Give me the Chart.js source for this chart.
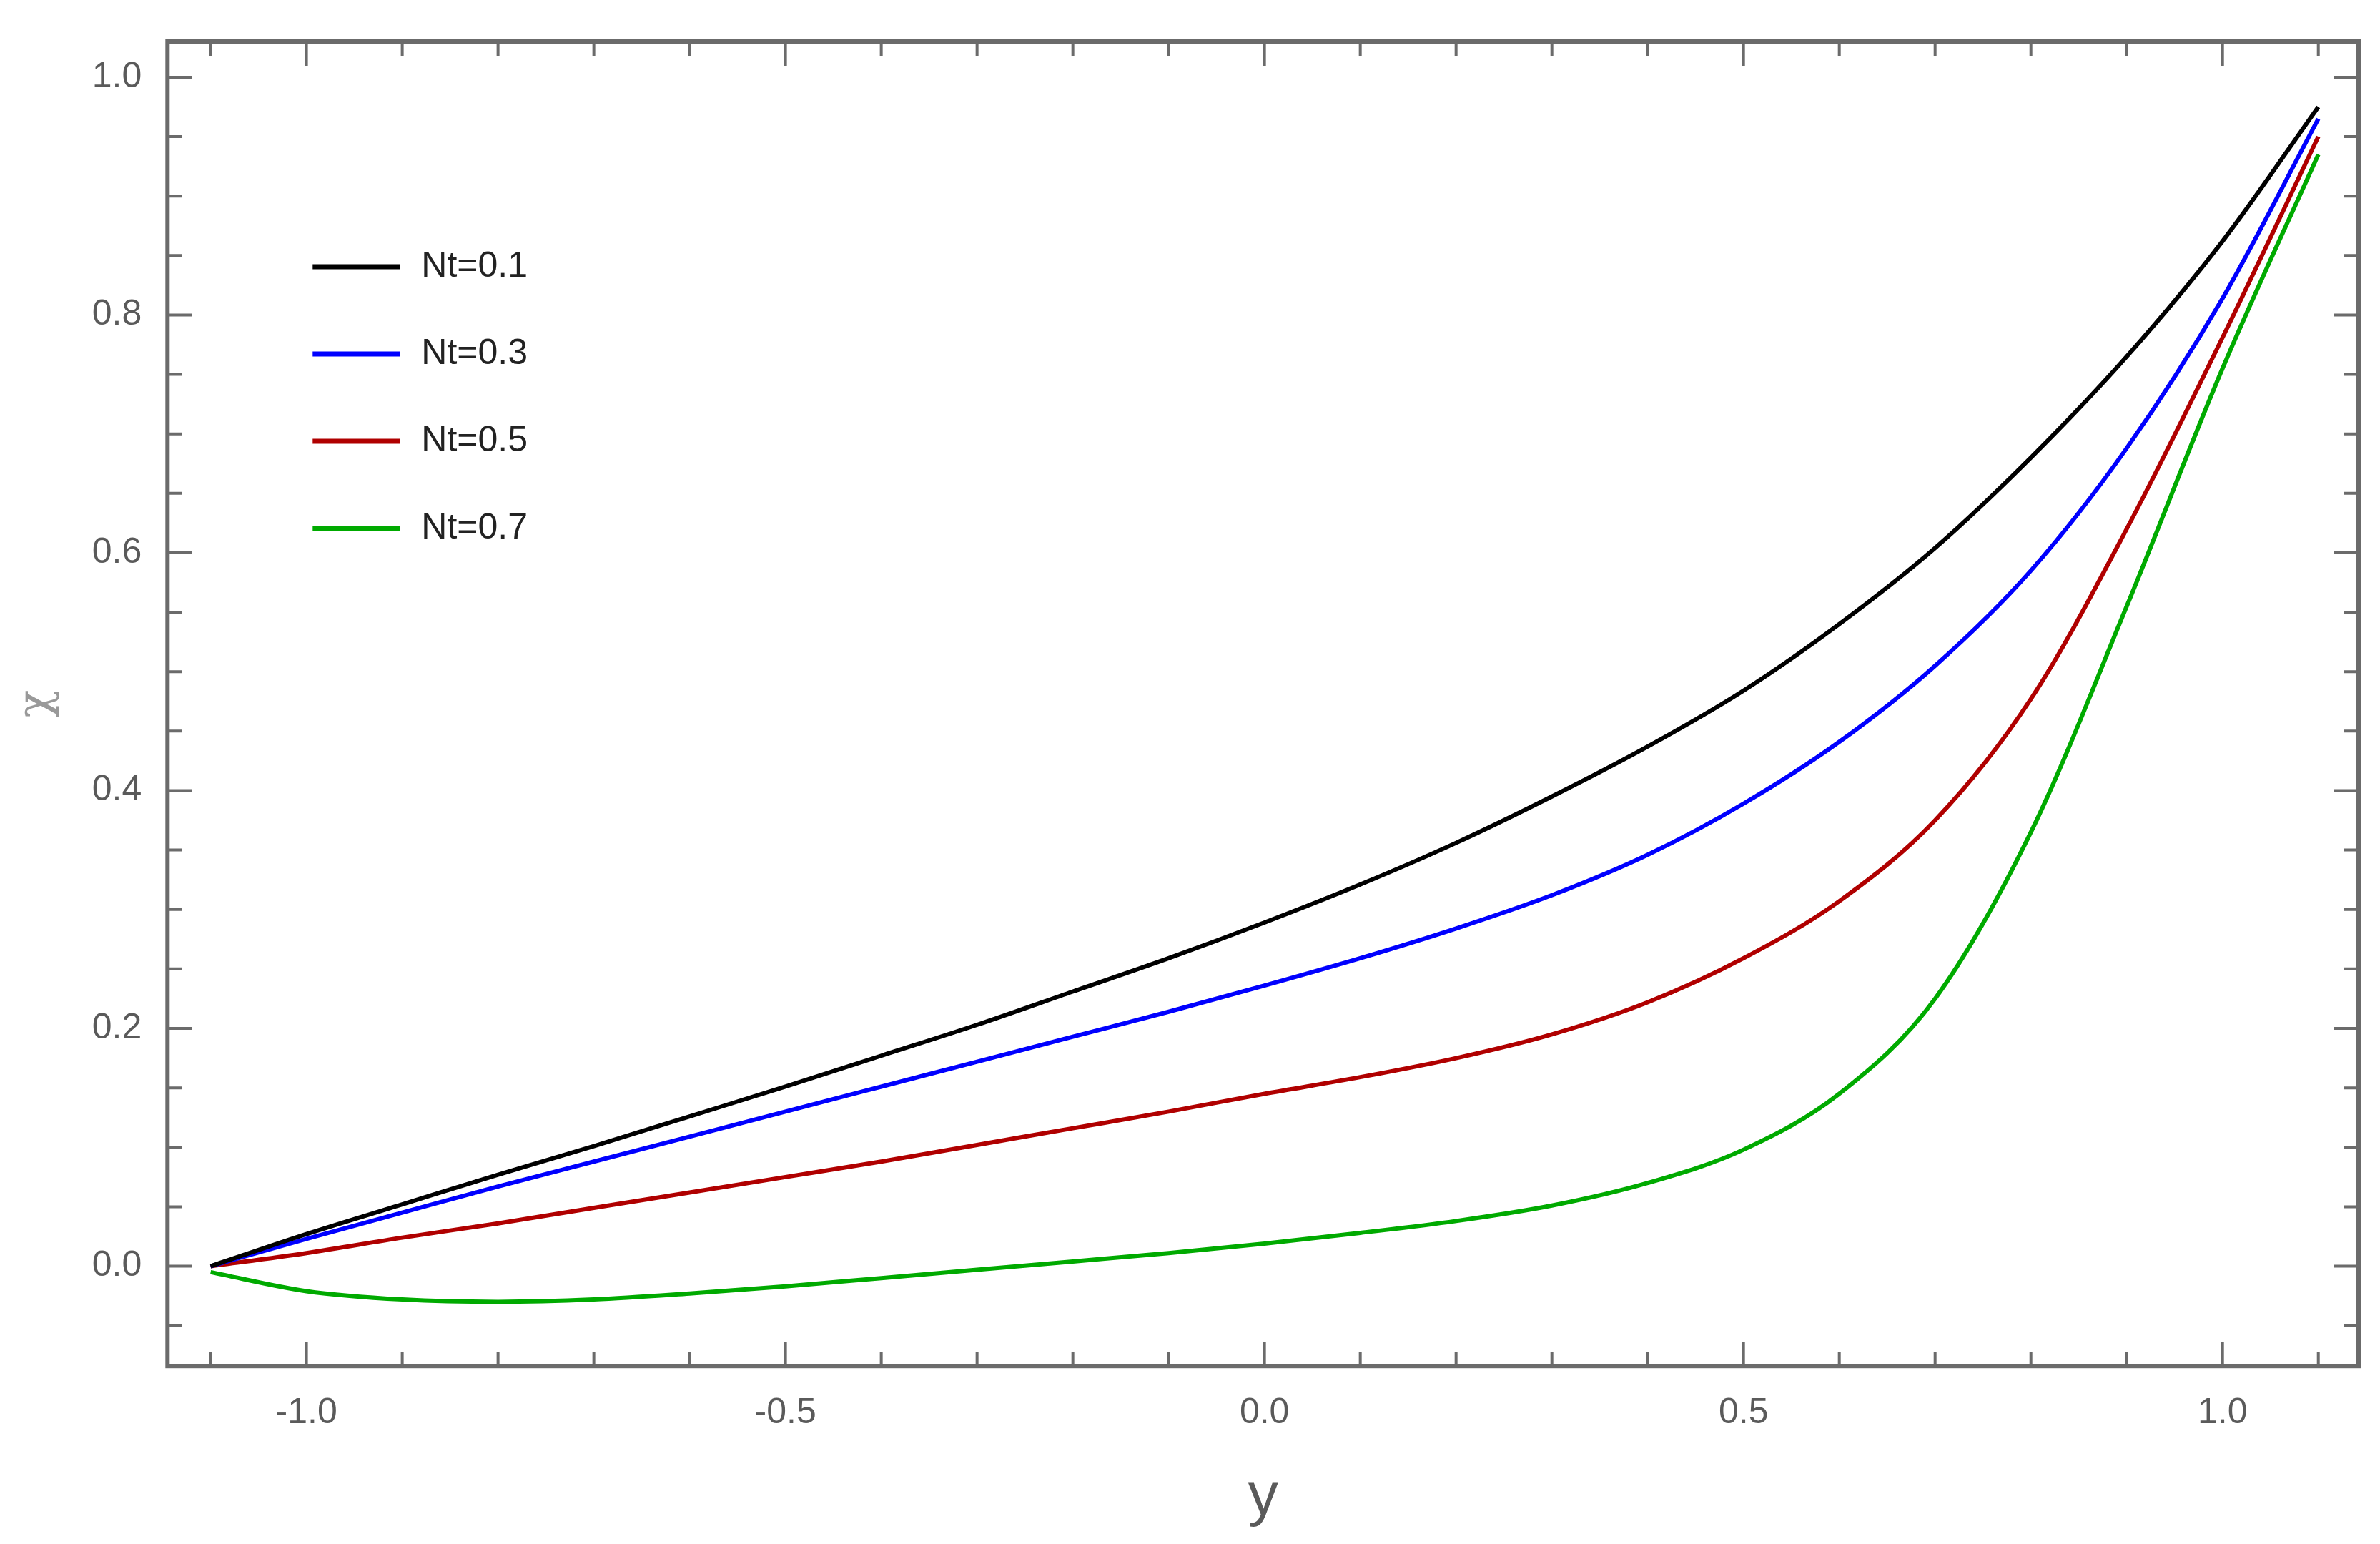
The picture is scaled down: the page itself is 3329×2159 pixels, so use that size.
<!DOCTYPE html>
<html>
<head>
<meta charset="utf-8">
<script src="https://cdn.jsdelivr.net/npm/chart.js@4.4.1/dist/chart.umd.min.js"></script>
<style>
  html, body { margin: 0; padding: 0; background: #fff; }
  #wrap { width: 3329px; height: 2159px; }
</style>
</head>
<body>
<div id="wrap"><canvas id="chiChart" width="3329" height="2159"></canvas></div>
<script>
// values
var yPos = [-1.1, -1.0, -0.9, -0.8, -0.7, -0.6, -0.5, -0.4, -0.3, -0.2, -0.1, 0.0, 0.1, 0.2, 0.3, 0.4, 0.5, 0.6, 0.7, 0.8, 0.9, 1.0, 1.1];
var nt01 = [0.0, 0.027, 0.052, 0.077, 0.101, 0.126, 0.151, 0.177, 0.203, 0.231, 0.259, 0.289, 0.321, 0.356, 0.395, 0.437, 0.484, 0.540, 0.604, 0.680, 0.765, 0.862, 0.975];
var nt03 = [0.0, 0.023, 0.045, 0.067, 0.088, 0.109, 0.130, 0.151, 0.172, 0.193, 0.214, 0.236, 0.259, 0.284, 0.312, 0.346, 0.389, 0.441, 0.505, 0.585, 0.688, 0.814, 0.965];
var nt05 = [0.0, 0.011, 0.024, 0.036, 0.049, 0.062, 0.075, 0.088, 0.102, 0.116, 0.130, 0.145, 0.159, 0.175, 0.195, 0.222, 0.259, 0.307, 0.375, 0.477, 0.620, 0.781, 0.950];
var nt07 = [-0.005, -0.021, -0.028, -0.030, -0.028, -0.023, -0.017, -0.010, -0.003, 0.004, 0.011, 0.019, 0.028, 0.038, 0.051, 0.070, 0.098, 0.145, 0.225, 0.365, 0.555, 0.755, 0.935];
var seriesNames = ['Nt=0.1', 'Nt=0.3', 'Nt=0.5', 'Nt=0.7'];
var seriesColors = ['#000000', '#0000ff', '#b00000', '#00aa00'];
var xTickLabels = [-1.0, -0.5, 0.0, 0.5, 1.0];
var yTickLabels = [0.0, 0.2, 0.4, 0.6, 0.8, 1.0];

var frameColor = '#6b6b6b';
var labelColor = '#5a5a5a';

function toPoints(vals) {
    return yPos.map(function (x, i) { return { x: x, y: vals[i] }; });
}

var allSeries = [nt01, nt03, nt05, nt07];
var datasets = allSeries.map(function (vals, i) {
    return {
        label: seriesNames[i],
        data: toPoints(vals),
        borderColor: seriesColors[i],
        borderWidth: 6,
        pointRadius: 0,
        fill: false,
        cubicInterpolationMode: 'monotone'
    };
});

// Mathematica-like frame with inward ticks, and the legend inside the plot
var framePlugin = {
    id: 'framePlugin',
    afterDraw: function (chart) {
        var ctx = chart.ctx;
        var a = chart.chartArea;
        var xs = chart.scales.x, ys = chart.scales.y;
        ctx.save();
        ctx.strokeStyle = frameColor;
        ctx.lineWidth = 6;
        ctx.strokeRect(a.left, a.top, a.right - a.left, a.bottom - a.top);
        ctx.lineWidth = 4;
        var v, p, len;
        for (var k = -12; k <= 12; k++) {
            v = k / 10;
            if (v < xs.min || v > xs.max) continue;
            p = xs.getPixelForValue(v);
            len = (k % 5 === 0) ? 34 : 20;
            ctx.beginPath();
            ctx.moveTo(p, a.bottom); ctx.lineTo(p, a.bottom - len);
            ctx.moveTo(p, a.top); ctx.lineTo(p, a.top + len);
            ctx.stroke();
        }
        for (k = -2; k <= 21; k++) {
            v = k / 20;
            if (v < ys.min || v > ys.max) continue;
            p = ys.getPixelForValue(v);
            len = (k % 4 === 0) ? 34 : 20;
            ctx.beginPath();
            ctx.moveTo(a.left, p); ctx.lineTo(a.left + len, p);
            ctx.moveTo(a.right, p); ctx.lineTo(a.right - len, p);
            ctx.stroke();
        }
        // legend
        ctx.font = '50px "Liberation Sans", Arial, sans-serif';
        ctx.textBaseline = 'middle';
        chart.data.datasets.forEach(function (ds, i) {
            var ly = a.top + 315 + i * 122;
            ctx.strokeStyle = ds.borderColor;
            ctx.lineWidth = 7;
            ctx.beginPath();
            ctx.moveTo(a.left + 203, ly); ctx.lineTo(a.left + 325, ly);
            ctx.stroke();
            ctx.fillStyle = '#222';
            ctx.fillText(ds.label, a.left + 355, ly);
        });
        ctx.restore();
    }
};

new Chart(document.getElementById('chiChart').getContext('2d'), {
    type: 'line',
    data: { datasets: datasets },
    options: {
        responsive: false,
        animation: false,
        devicePixelRatio: 1,
        layout: { padding: { top: 36, right: 30, left: 10, bottom: 10 } },
        plugins: { legend: { display: false }, tooltip: { enabled: false } },
        scales: {
            x: {
                type: 'linear',
                min: -1.145, max: 1.142,
                afterBuildTicks: function (s) { s.ticks = xTickLabels.map(function (v) { return { value: v }; }); },
                grid: { display: false },
                border: { display: false },
                ticks: {
                    color: labelColor, padding: 28,
                    font: { size: 50, family: '"Liberation Sans", Arial, sans-serif' },
                    callback: function (v) { return v.toFixed(1); }
                },
                title: {
                    display: true, text: 'y', color: labelColor, padding: { top: 10 },
                    font: { size: 84, family: '"Liberation Sans", Arial, sans-serif' }
                }
            },
            y: {
                type: 'linear',
                min: -0.084, max: 1.03,
                afterBuildTicks: function (s) { s.ticks = yTickLabels.map(function (v) { return { value: v }; }); },
                grid: { display: false },
                border: { display: false },
                ticks: {
                    color: labelColor, padding: 28,
                    font: { size: 50, family: '"Liberation Sans", Arial, sans-serif' },
                    callback: function (v) { return v.toFixed(1); }
                },
                title: {
                    display: true, text: 'χ', color: '#999', padding: { bottom: 10 },
                    font: { size: 64, family: '"DejaVu Serif", serif' }
                }
            }
        }
    },
    plugins: [framePlugin]
});
</script>
</body>
</html>
